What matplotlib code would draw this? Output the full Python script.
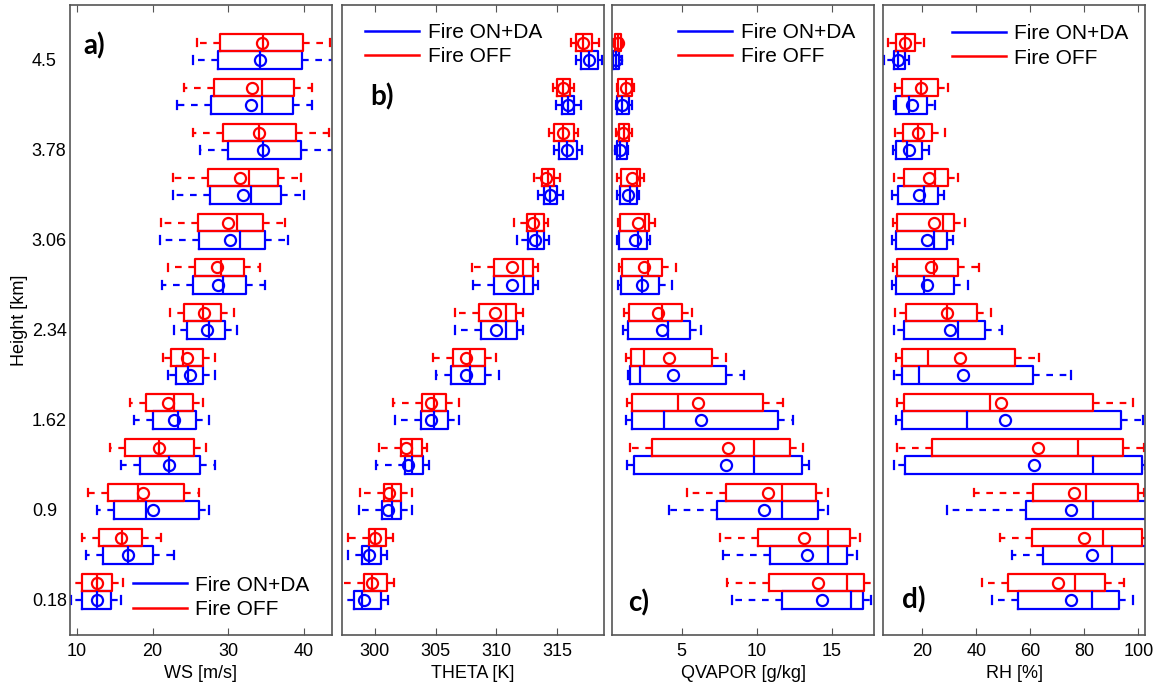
import matplotlib
matplotlib.use('Agg')
import matplotlib.pyplot as plt
from matplotlib.lines import Line2D

plt.rcParams['font.family'] = ['Liberation Sans', 'DejaVu Sans']

heights = [0.18, 0.54, 0.90, 1.26, 1.62, 1.98, 2.34, 2.70, 3.06, 3.42, 3.78, 4.14, 4.50]
height_ticks = [0.18, 0.9, 1.62, 2.34, 3.06, 3.78, 4.5]
height_labels = ['0.18', '0.9', '1.62', '2.34', '3.06', '3.78', '4.5']

# each row: whisker low, q1, median, q3, whisker high, mean  (bottom -> top)
ws_off = [[9.0, 10.7, 12.6, 14.6, 16.1, 12.6],
          [10.7, 12.9, 16.0, 18.6, 21.1, 15.9],
          [11.5, 14.1, 18.1, 24.2, 26.1, 18.8],
          [14.4, 16.4, 20.9, 25.5, 27.1, 20.9],
          [17.0, 19.2, 22.8, 25.3, 26.6, 22.1],
          [21.4, 22.5, 24.0, 26.6, 28.2, 24.6],
          [22.3, 24.2, 26.7, 29.1, 30.8, 26.8],
          [22.0, 25.6, 29.1, 32.1, 34.2, 28.5],
          [21.1, 26.0, 31.2, 34.6, 37.5, 29.9],
          [22.7, 27.3, 32.7, 36.6, 39.6, 31.6],
          [25.3, 29.3, 34.1, 39.0, 43.3, 34.1],
          [24.2, 28.1, 34.4, 38.7, 41.0, 33.2],
          [25.9, 28.9, 34.6, 39.9, 43.5, 34.4]]
ws_on = [[9.2, 10.7, 12.6, 14.5, 15.9, 12.6],
         [11.2, 13.5, 16.7, 20.0, 22.8, 16.8],
         [12.6, 14.9, 19.1, 26.1, 27.5, 20.0],
         [15.8, 18.3, 22.2, 26.3, 28.2, 22.2],
         [17.6, 20.1, 23.3, 25.8, 27.4, 22.8],
         [22.0, 23.1, 24.7, 26.7, 28.3, 24.9],
         [22.8, 24.6, 27.4, 29.6, 31.2, 27.2],
         [21.2, 25.3, 29.3, 32.4, 34.9, 28.6],
         [21.0, 26.1, 31.5, 34.9, 37.9, 30.2],
         [22.7, 27.6, 33.0, 36.9, 40.0, 32.0],
         [26.3, 29.9, 34.6, 39.6, 43.8, 34.6],
         [23.2, 27.7, 34.4, 38.6, 41.0, 33.0],
         [25.4, 28.6, 34.2, 39.8, 43.8, 34.2]]

theta_off = [[297.2, 299.1, 299.8, 301.0, 301.6, 299.8],
             [297.8, 299.5, 300.0, 300.9, 301.5, 300.0],
             [298.8, 300.8, 301.4, 302.2, 303.1, 301.2],
             [300.4, 302.2, 303.1, 303.9, 304.3, 302.6],
             [301.5, 303.9, 304.9, 305.9, 306.9, 304.6],
             [304.8, 306.4, 307.8, 309.1, 310.0, 307.5],
             [306.6, 308.6, 310.8, 311.6, 312.2, 309.9],
             [308.0, 309.8, 312.2, 313.0, 313.4, 311.3],
             [311.4, 312.5, 313.2, 313.9, 314.2, 313.0],
             [313.1, 313.7, 314.2, 314.7, 315.2, 314.1],
             [314.3, 314.7, 315.5, 316.4, 316.7, 315.5],
             [314.6, 315.0, 315.5, 316.0, 316.4, 315.5],
             [316.1, 316.5, 317.1, 317.8, 318.4, 317.1]]
theta_on = [[297.2, 298.3, 299.0, 300.5, 301.1, 299.1],
            [297.8, 299.0, 299.5, 300.5, 301.0, 299.5],
            [298.7, 300.6, 301.4, 302.2, 303.1, 301.1],
            [300.1, 302.5, 303.1, 304.0, 304.5, 302.7],
            [301.7, 303.8, 304.9, 306.0, 306.9, 304.6],
            [305.0, 306.3, 307.8, 309.1, 310.2, 307.5],
            [306.6, 308.7, 310.8, 311.7, 312.2, 310.0],
            [308.1, 309.8, 312.3, 313.0, 313.4, 311.3],
            [311.7, 312.6, 313.3, 313.9, 314.3, 313.2],
            [313.4, 313.9, 314.4, 315.0, 315.5, 314.4],
            [314.7, 315.1, 315.8, 316.6, 317.0, 315.8],
            [314.9, 315.4, 315.9, 316.4, 316.9, 315.9],
            [316.5, 316.9, 317.6, 318.3, 318.7, 317.6]]

qv_off = [[8.04, 10.84, 16.04, 17.18, 17.9, 14.11],
          [7.56, 10.11, 14.78, 16.22, 16.89, 13.16],
          [5.33, 7.96, 11.67, 13.96, 14.78, 10.78],
          [1.56, 3.0, 9.82, 12.22, 13.07, 8.07],
          [1.36, 1.71, 4.78, 10.44, 11.73, 6.07],
          [1.27, 1.6, 2.51, 7.0, 7.93, 4.18],
          [1.18, 1.49, 3.71, 5.0, 5.71, 3.44],
          [0.82, 1.0, 2.73, 3.71, 4.6, 2.49],
          [0.73, 0.89, 2.56, 2.84, 3.22, 2.11],
          [0.67, 0.96, 2.0, 2.22, 2.51, 1.71],
          [0.62, 0.82, 1.16, 1.49, 1.71, 1.11],
          [0.67, 0.78, 1.27, 1.67, 1.84, 1.27],
          [0.44, 0.56, 0.73, 0.93, 1.04, 0.73]]
qv_on = [[8.33, 11.67, 16.27, 17.11, 17.6, 14.38],
         [7.78, 10.89, 14.73, 16.04, 16.67, 13.33],
         [4.16, 7.33, 11.67, 14.11, 14.73, 10.51],
         [1.36, 1.84, 9.82, 13.0, 13.51, 7.93],
         [1.29, 1.67, 3.82, 11.4, 12.44, 6.27],
         [1.4, 1.55, 2.22, 7.93, 9.18, 4.4],
         [1.11, 1.4, 4.11, 5.56, 6.29, 3.67],
         [0.78, 0.96, 2.33, 3.49, 4.33, 2.33],
         [0.71, 0.82, 2.11, 2.67, 2.89, 1.89],
         [0.71, 0.89, 1.56, 2.0, 2.18, 1.4],
         [0.56, 0.67, 0.89, 1.33, 1.4, 0.89],
         [0.62, 0.71, 1.04, 1.49, 1.67, 1.0],
         [0.2, 0.44, 0.62, 0.82, 1.0, 0.62]]

rh_off = [[42.0, 51.6, 76.5, 87.7, 94.8, 70.4],
          [48.8, 60.5, 87.0, 101.2, 104.0, 79.9],
          [39.1, 60.9, 80.6, 100.0, 102.0, 76.2],
          [10.7, 23.5, 77.5, 94.2, 102.2, 62.7],
          [10.5, 13.3, 45.1, 83.3, 98.1, 49.0],
          [10.1, 12.6, 21.9, 54.3, 63.3, 33.9],
          [9.9, 13.8, 29.0, 40.1, 45.4, 29.0],
          [9.0, 10.5, 24.4, 33.3, 41.0, 23.2],
          [9.0, 10.7, 27.8, 31.7, 35.8, 24.3],
          [9.3, 13.0, 24.7, 29.3, 33.1, 22.5],
          [9.9, 12.7, 18.5, 23.7, 28.4, 18.5],
          [9.9, 12.3, 19.5, 25.7, 29.4, 19.5],
          [7.2, 10.1, 13.6, 17.3, 20.4, 13.6]]
rh_on = [[45.9, 55.6, 82.7, 93.0, 98.1, 74.9],
         [53.1, 64.8, 90.1, 103.0, 105.0, 83.0],
         [29.0, 58.3, 83.1, 102.8, 104.0, 75.1],
         [9.5, 13.6, 83.3, 101.2, 102.4, 61.5],
         [10.1, 12.6, 36.7, 93.5, 101.9, 50.6],
         [9.6, 12.3, 18.8, 60.9, 75.1, 35.2],
         [9.3, 13.0, 33.1, 43.2, 49.6, 30.2],
         [8.6, 10.1, 20.7, 31.7, 37.0, 21.6],
         [8.9, 10.1, 24.4, 29.0, 31.2, 21.6],
         [8.9, 11.1, 20.7, 25.6, 28.1, 18.9],
         [9.0, 10.2, 14.2, 19.8, 22.6, 15.1],
         [9.5, 10.2, 15.2, 21.6, 24.7, 16.3],
         [5.6, 9.3, 10.9, 13.6, 15.2, 10.9]]

panels = [
    (ws_on, ws_off, 'WS [m/s]', (9.1, 43.7), [10, 20, 30, 40], 'a)'),
    (theta_on, theta_off, 'THETA [K]', (297.3, 318.8), [300, 305, 310, 315], 'b)'),
    (qv_on, qv_off, 'QVAPOR [g/kg]', (0.38, 17.85), [5, 10, 15], 'c)'),
    (rh_on, rh_off, 'RH [%]', (5.5, 102.6), [20, 40, 60, 80, 100], 'd)'),
]

label_pos = [(0.05, 0.935), (0.108, 0.854), (0.06, 0.051), (0.071, 0.056)]
legend_pos = [(0.24, 0.06), (0.089, 0.937), (0.251, 0.937), (0.262, 0.935)]

offset = 0.14


def draw(ax, rows, pos, color):
    stats = [dict(whislo=r[0], q1=r[1], med=r[2], q3=r[3], whishi=r[4], mean=r[5], fliers=[]) for r in rows]
    ax.bxp(stats, positions=pos, widths=0.14, capwidths=0.06, orientation='horizontal',
           showmeans=True, showfliers=False, manage_ticks=False,
           boxprops=dict(color=color, lw=1.6),
           whiskerprops=dict(color=color, lw=1.6, ls=(0, (3, 3))),
           capprops=dict(color=color, lw=1.6),
           medianprops=dict(color=color, lw=1.6),
           meanprops=dict(marker='o', mfc='none', mec=color, mew=1.6, ms=8))


fig = plt.figure(figsize=(11.59, 6.89), dpi=100)
lefts = [70, 341.7, 612.3, 883.3]
for i, (on, off, xlab, xlim, xticks, tag) in enumerate(panels):
    ax = fig.add_axes([lefts[i] / 1159, 54 / 689, 262 / 1159, 630 / 689])
    draw(ax, on, heights, 'blue')
    draw(ax, off, [h + offset for h in heights], 'red')
    ax.set_xlim(xlim)
    ax.set_ylim(-0.1, 4.94)
    ax.set_xticks(xticks)
    ax.set_yticks(height_ticks)
    ax.tick_params(axis='x', direction='in', top=True, length=5, pad=6, labelsize=13, color='#555555')
    ax.tick_params(axis='y', length=0, labelsize=13)
    if i > 0:
        ax.set_yticklabels([])
    else:
        ax.set_yticklabels(height_labels, ha='left')
        ax.tick_params(axis='y', pad=27.5)
        ax.set_ylabel('Height [km]', fontsize=13)
        ax.yaxis.set_label_coords(-0.16, 0.5)
    ax.set_xlabel(xlab, fontsize=13, labelpad=3)
    for s in ax.spines.values():
        s.set_color('#555555')
        s.set_linewidth(1.2)
    ax.text(label_pos[i][0], label_pos[i][1], tag, transform=ax.transAxes, fontsize=20,
            fontweight='bold', family=['Lato', 'DejaVu Sans'], ha='left', va='center')
    handles = [Line2D([], [], color='blue', lw=1.8), Line2D([], [], color='red', lw=1.8)]
    ax.legend(handles, ['Fire ON+DA', 'Fire OFF'], loc='center left', bbox_to_anchor=legend_pos[i],
              frameon=False, fontsize=15, handlelength=2.6, handletextpad=0.4, labelspacing=0.25,
              borderpad=0, borderaxespad=0)

fig.savefig('out.png', dpi=100)
